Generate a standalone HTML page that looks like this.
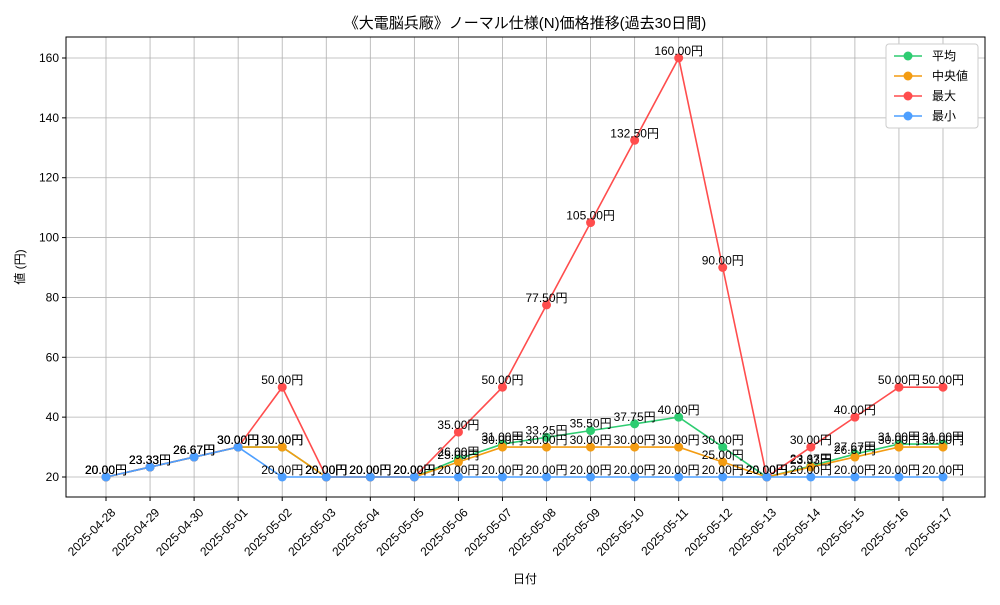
<!DOCTYPE html>
<html><head><meta charset="utf-8"><style>
body{margin:0;background:#fff}
svg text{font-family:"Liberation Sans","Noto Sans CJK JP",sans-serif}
</style></head><body>
<svg id="c" width="1000" height="600" viewBox="0 0 1000 600"></svg>
<script>
const dates=["2025-04-28","2025-04-29","2025-04-30","2025-05-01","2025-05-02","2025-05-03","2025-05-04","2025-05-05","2025-05-06","2025-05-07","2025-05-08","2025-05-09","2025-05-10","2025-05-11","2025-05-12","2025-05-13","2025-05-14","2025-05-15","2025-05-16","2025-05-17"];
const avgVals=[20,23.33,26.67,30,30,20,20,20,26,31,33.25,35.5,37.75,40,30,20,23.67,27.67,31,31];
const medVals=[20,23.33,26.67,30,30,20,20,20,25,30,30,30,30,30,25,20,23.33,26.67,30,30];
const maxVals=[20,23.33,26.67,30,50,20,20,20,35,50,77.5,105,132.5,160,90,20,30,40,50,50];
const minVals=[20,23.33,26.67,30,20,20,20,20,20,20,20,20,20,20,20,20,20,20,20,20];
const yTicks=[20,40,60,80,100,120,140,160];
const series=[["平均",avgVals,"#2ecc71","avg"],["中央値",medVals,"#f39c12","median"],["最大",maxVals,"#ff4d4d","max"],["最小",minVals,"#4d9fff","min"]];
const L=66,R=985,T=37,B=497;
const X=i=>106+i*(943-106)/(dates.length-1);
const Y=v=>477-(v-20)*(477-58)/140;
const s=document.getElementById('c');const NS="http://www.w3.org/2000/svg";
function el(t,a,txt,p){const e=document.createElementNS(NS,t);for(const k in a)e.setAttribute(k,a[k]);if(txt!=null)e.textContent=txt;(p||s).appendChild(e);return e;}
let g=el('g',{});


dates.forEach((d,i)=>{el('line',{x1:X(i),x2:X(i),y1:T,y2:B,stroke:'#b0b0b0','stroke-width':0.8},null,g);
 el('line',{x1:X(i),x2:X(i),y1:B,y2:B+4,stroke:'#000'},null,g);
 const t=el('text',{x:X(i)+4,y:B+10,'font-size':12,'text-anchor':'end',transform:`rotate(-45 ${X(i)+4} ${B+10})`,'dominant-baseline':'hanging'},d);
 
 });
yTicks.forEach(v=>{el('line',{x1:L,x2:R,y1:Y(v),y2:Y(v),stroke:'#b0b0b0','stroke-width':0.8},null,g);
 el('line',{x1:L-4,x2:L,y1:Y(v),y2:Y(v),stroke:'#000'},null,g);
 const t=el('text',{x:L-7,y:Y(v)+4,'font-size':12,'text-anchor':'end'},v);
 
 });
const fr=el('rect',{x:L,y:T,width:R-L,height:B-T,fill:'none',stroke:'#000','stroke-width':1});


series.forEach(([n,vals,c,k])=>{
 const sg=el('g',{});
 
 
 el('polyline',{points:vals.map((v,i)=>X(i)+','+Y(v)).join(' '),fill:'none',stroke:c,'stroke-width':1.6},null,sg);
 vals.forEach((v,i)=>{const p=el('circle',{cx:X(i),cy:Y(v),r:4.5,fill:c},null,sg);
  
  
  const t=el('text',{x:X(i),y:Y(v)-3,'font-size':12,'text-anchor':'middle'},v.toFixed(2)+'円',sg);
  
  });
});
let t=el('text',{x:525,y:28,'font-size':15,'text-anchor':'middle'},'《大電脳兵廠》ノーマル仕様(N)価格推移(過去30日間)');


t=el('text',{x:525,y:583,'font-size':12,'text-anchor':'middle'},'日付');


t=el('text',{x:24,y:267,'font-size':12,'text-anchor':'middle',transform:'rotate(-90 24 267)'},'値 (円)');


const lg=el('g',{});


el('rect',{x:886,y:44,width:92,height:84,fill:'#fff',stroke:'#ccc',rx:3},null,lg);
series.forEach(([n,vals,c,k],j)=>{const y=56+j*20;
 el('line',{x1:894,x2:922,y1:y,y2:y,stroke:c,'stroke-width':1.6},null,lg);
 el('circle',{cx:908,cy:y,r:4.5,fill:c},null,lg);
 const e=el('text',{x:932,y:y+4,'font-size':12},n,lg);
 
 });
</script></body></html>
